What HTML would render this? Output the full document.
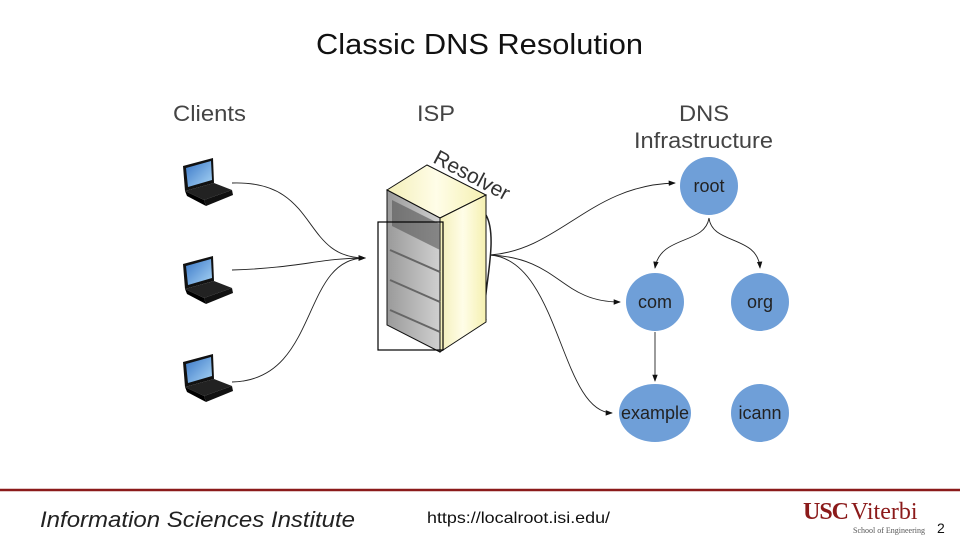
<!DOCTYPE html>
<html><head><meta charset="utf-8"><style>
body{margin:0;background:#fff;}
svg{display:block;}
</style></head><body>
<svg width="960" height="540" viewBox="0 0 960 540" xmlns="http://www.w3.org/2000/svg">
<defs>
<marker id="a" markerWidth="8" markerHeight="8" refX="7" refY="4" orient="auto"><path d="M0,1 L8,4 L0,7 z" fill="#111"/></marker>
<linearGradient id="y" x1="0" x2="1"><stop offset="0" stop-color="#f3efb8"/><stop offset="0.5" stop-color="#fffde8"/><stop offset="1" stop-color="#f5f0b0"/></linearGradient>
<linearGradient id="g" x1="0" x2="1"><stop offset="0" stop-color="#9a9a9a"/><stop offset="1" stop-color="#d0d0d0"/></linearGradient>
<linearGradient id="s" x1="0" y1="0" x2="1" y2="1"><stop offset="0" stop-color="#3a78c8"/><stop offset="1" stop-color="#a8d4f4"/></linearGradient>
</defs>
<text x="316" y="54" font-family="Liberation Sans, sans-serif" font-size="29" fill="#111" textLength="327" lengthAdjust="spacingAndGlyphs">Classic DNS Resolution</text>
<g font-family="Liberation Sans, sans-serif" font-size="22" fill="#444">
<text x="173" y="121" textLength="73" lengthAdjust="spacingAndGlyphs">Clients</text>
<text x="417" y="121" textLength="38" lengthAdjust="spacingAndGlyphs">ISP</text>
<text x="679" y="121" textLength="50" lengthAdjust="spacingAndGlyphs">DNS</text>
<text x="634" y="148" textLength="139" lengthAdjust="spacingAndGlyphs">Infrastructure</text>
</g>
<text x="0" y="0" font-family="Liberation Sans, sans-serif" font-size="21" fill="#333" transform="translate(432,162) rotate(28)">Resolver</text>
<g id="lp">
<polygon points="183,166 213,158 214,183 185,191" fill="#111"/>
<polygon points="186,168 211,161 212,180 188,187" fill="url(#s)"/>
<polygon points="185,191 214,183 232,190 204,200" fill="#222"/>
<polygon points="185,191 204,200 206,206 187,196" fill="#000"/>
<polygon points="204,200 232,190 233,195 206,206" fill="#111"/>
</g>
<use href="#lp" transform="translate(0,98)"/>
<use href="#lp" transform="translate(0,196)"/>
<g fill="none" stroke="#222" stroke-width="0.9">
<path d="M232,183 C320,180 300,258 365,258" marker-end="url(#a)"/>
<path d="M232,270 C300,268 320,258 365,258" marker-end="url(#a)"/>
<path d="M232,382 C320,380 300,258 365,258" marker-end="url(#a)"/>
<path d="M490,255 C560,250 590,185 675,183" marker-end="url(#a)"/>
<path d="M490,255 C560,258 560,302 620,302" marker-end="url(#a)"/>
<path d="M490,255 C560,260 560,412 612,413" marker-end="url(#a)"/>
<path d="M709,218 C705,245 660,235 655,268" marker-end="url(#a)"/>
<path d="M709,218 C712,245 758,235 760,268" marker-end="url(#a)"/>
<path d="M655,332 L655,381" marker-end="url(#a)"/>
<path d="M486,215 C500,240 480,300 486,320" stroke-width="1.5"/>
</g>
<polygon points="387,190 427,165 486,195 440,218" fill="url(#y)" stroke="#111"/>
<polygon points="387,190 440,218 440,352 387,325" fill="url(#g)" stroke="#111"/>
<polygon points="440,218 486,195 486,322 440,352" fill="url(#y)" stroke="#111"/>
<polygon points="392,200 440,224 440,250 392,226" fill="#555" opacity="0.6"/>
<g stroke="#666" stroke-width="2"><line x1="390" y1="250" x2="440" y2="272"/><line x1="390" y1="280" x2="440" y2="302"/><line x1="390" y1="310" x2="440" y2="332"/></g>
<rect x="378" y="222" width="65" height="128" fill="none" stroke="#000" stroke-width="1.2"/>
<g fill="#6f9fd8"><circle cx="709" cy="186" r="29"/><circle cx="655" cy="302" r="29"/><circle cx="760" cy="302" r="29"/><ellipse cx="655" cy="413" rx="36" ry="29"/><circle cx="760" cy="413" r="29"/></g>
<g font-family="Liberation Sans, sans-serif" font-size="18" fill="#222" text-anchor="middle">
<text x="709" y="192">root</text><text x="655" y="308">com</text><text x="760" y="308">org</text><text x="655" y="419">example</text><text x="760" y="419">icann</text>
</g>
<line x1="0" y1="490" x2="960" y2="490" stroke="#8b1a1a" stroke-width="2.5"/>
<text x="40" y="527" font-family="Liberation Sans, sans-serif" font-style="italic" font-size="22" fill="#222" textLength="315" lengthAdjust="spacingAndGlyphs">Information Sciences Institute</text>
<text x="427" y="523" font-family="Liberation Sans, sans-serif" font-size="16" fill="#111" textLength="183" lengthAdjust="spacingAndGlyphs">https://localroot.isi.edu/</text>
<text x="803" y="519" font-family="Liberation Serif, serif" font-size="24" font-weight="bold" fill="#8b1a1a" letter-spacing="-1">USC</text>
<text x="851" y="519" font-family="Liberation Serif, serif" font-size="24" fill="#8b1a1a">Viterbi</text>
<text x="853" y="533" font-family="Liberation Serif, serif" font-size="8" fill="#555">School of Engineering</text>
<text x="937" y="533" font-family="Liberation Sans, sans-serif" font-size="14" fill="#111">2</text>
</svg>
</body></html>
